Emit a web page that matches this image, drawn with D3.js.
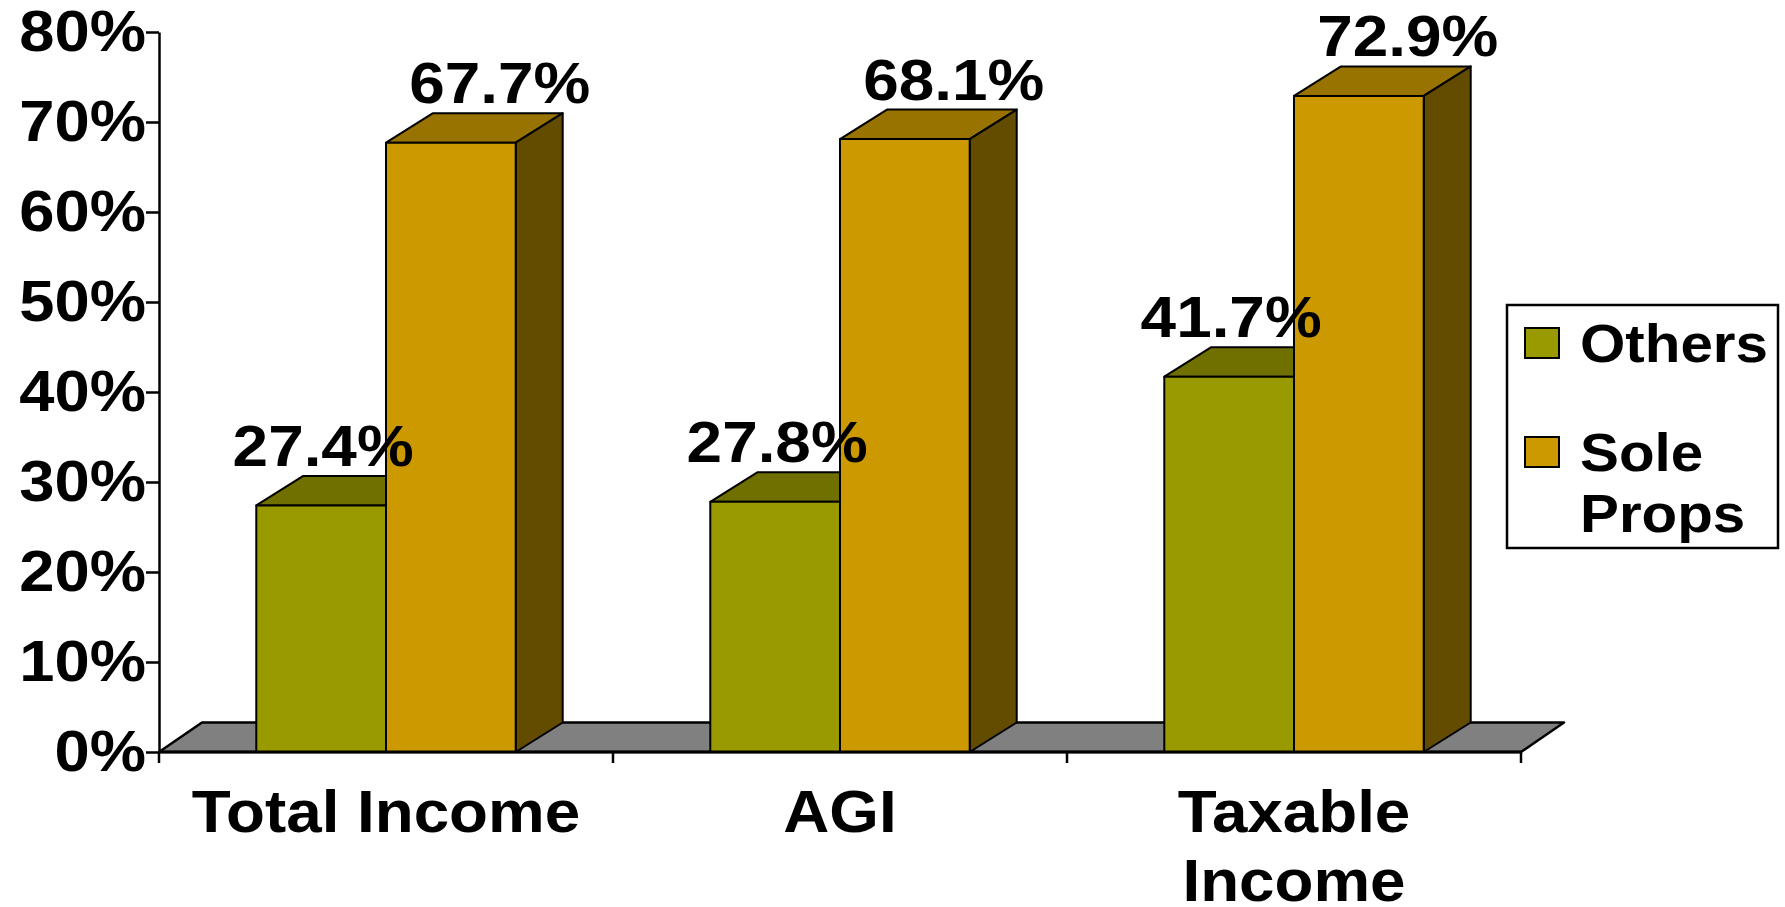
<!DOCTYPE html>
<html>
<head>
<meta charset="utf-8">
<script src="https://cdn.jsdelivr.net/npm/d3@7"></script>
<style>
  body { margin: 0; background: #fff; }
  text { font-family: "Liberation Sans", Arial, sans-serif; font-weight: bold; fill: #000; }
</style>
</head>
<body>
<svg id="chart"></svg>
<script>
// data
var categories = ["Total Income", "AGI", "Taxable Income"];
var seriesNames = ["Others", "Sole Props"];
var othersValues = [27.4, 27.8, 41.7];
var solePropsValues = [67.7, 68.1, 72.9];
var yTicks = [0, 10, 20, 30, 40, 50, 60, 70, 80];

var frontColors = ["#999900", "#cc9900"];
var topColors = ["#707000", "#997300"];
var sideColors = ["#4d4d00", "#634b00"];

document.addEventListener("DOMContentLoaded", function() {
  var width = 1785, height = 907;
  var svg = d3.select("#chart").attr("width", width).attr("height", height);

  var left = 159, right = 1521, bottom = 752, top = 32;
  var depthX = 47, depthY = 29.5;   // bar depth offset
  var floorX = 43;                  // floor depth offset

  var rows = seriesNames.map(function(name, i) {
    var vals = i === 0 ? othersValues : solePropsValues;
    return { name: name, index: i, values: vals };
  });

  var x0 = d3.scaleBand().domain(categories).range([left, right]).padding(0);
  var x1 = d3.scaleBand().domain(seriesNames).range([0, x0.bandwidth()])
    .paddingInner(0).paddingOuter(0.75);
  var y = d3.scaleLinear().domain([0, 80]).range([bottom, top]);

  // floor
  svg.append("polygon")
    .attr("points", [
      [left, bottom], [right, bottom],
      [right + floorX, bottom - depthY], [left + floorX, bottom - depthY]
    ].join(" "))
    .attr("fill", "#808080")
    .attr("stroke", "#000")
    .attr("stroke-width", 2.5)
    .attr("stroke-linejoin", "round");

  // bars, category by category so later series cover the earlier side faces
  categories.forEach(function(cat, ci) {
    rows.forEach(function(row) {
      var v = row.values[ci];
      var bx = x0(cat) + x1(row.name);
      var bw = x1.bandwidth();
      var yt = y(v), yb = y(0);
      var g = svg.append("g").attr("class", "bar");

      g.append("polygon")
        .attr("points", [
          [bx, yt], [bx + depthX, yt - depthY],
          [bx + bw + depthX, yt - depthY], [bx + bw, yt]
        ].join(" "))
        .attr("fill", topColors[row.index]);

      g.append("polygon")
        .attr("points", [
          [bx + bw, yt], [bx + bw + depthX, yt - depthY],
          [bx + bw + depthX, yb - depthY], [bx + bw, yb]
        ].join(" "))
        .attr("fill", sideColors[row.index]);

      g.append("rect")
        .attr("x", bx).attr("y", yt)
        .attr("width", bw).attr("height", yb - yt)
        .attr("fill", frontColors[row.index]);

      g.selectAll("polygon, rect")
        .attr("stroke", "#000")
        .attr("stroke-width", 2)
        .attr("stroke-linejoin", "round");
    });
  });

  // value labels
  categories.forEach(function(cat, ci) {
    rows.forEach(function(row) {
      var v = row.values[ci];
      var cx = x0(cat) + x1(row.name) + x1.bandwidth() / 2 + (row.index === 1 ? depthX : 0);
      svg.append("text")
        .attr("x", cx + 2)
        .attr("y", y(v) - depthY - 10)
        .attr("text-anchor", "middle")
        .style("font-size", "57px")
        .text(v.toFixed(1) + "%")
        .call(stretch, 1.12);
    });
  });

  // y axis
  var yAxis = d3.axisLeft(y)
    .tickValues(yTicks)
    .tickFormat(function(d) { return d + "%"; })
    .tickSize(13)
    .tickSizeOuter(0)
    .tickPadding(0);

  var yg = svg.append("g")
    .attr("transform", "translate(" + left + ",0)")
    .call(yAxis);
  yg.selectAll("path, line").attr("stroke", "#000").attr("stroke-width", 2.5);
  yg.selectAll("text")
    .attr("fill", "#000")
    .style("font-size", "57px")
    .style("font-family", "'Liberation Sans', Arial, sans-serif")
    .style("font-weight", "bold")
    .call(stretch, 1.11);

  // category axis: line on the front edge, ticks at band edges
  svg.append("line")
    .attr("x1", left).attr("x2", right)
    .attr("y1", bottom).attr("y2", bottom)
    .attr("stroke", "#000").attr("stroke-width", 3);

  var edges = categories.map(function(c) { return x0(c); }).concat([right]);
  svg.selectAll(".cat-tick")
    .data(edges)
    .enter().append("line")
    .attr("class", "cat-tick")
    .attr("x1", function(d) { return d; })
    .attr("x2", function(d) { return d; })
    .attr("y1", bottom).attr("y2", bottom + 11)
    .attr("stroke", "#000").attr("stroke-width", 2.5);

  svg.selectAll(".cat-label")
    .data(categories)
    .enter().append("text")
    .attr("class", "cat-label")
    .attr("x", function(d) { return x0(d) + x0.bandwidth() / 2; })
    .attr("y", 832)
    .attr("text-anchor", "middle")
    .style("font-size", "59px")
    .text(function(d) { return d; })
    .call(wrap, x0.bandwidth() - 20, 69)
    .call(stretch, 1.08);

  // legend
  var legend = svg.append("g");
  legend.append("rect")
    .attr("x", 1507).attr("y", 305)
    .attr("width", 271).attr("height", 243)
    .attr("fill", "#fff")
    .attr("stroke", "#000").attr("stroke-width", 2.5);

  var legendRows = [343, 452];
  rows.forEach(function(row, i) {
    legend.append("rect")
      .attr("x", 1525).attr("y", legendRows[i] - 15)
      .attr("width", 34).attr("height", 30)
      .attr("fill", frontColors[row.index])
      .attr("stroke", "#000").attr("stroke-width", 2);
    legend.append("text")
      .attr("x", 1580)
      .attr("y", legendRows[i] + 19)
      .style("font-size", "54px")
      .text(row.name)
      .call(wrap, 185, 61)
      .call(stretch, 1.08);
  });

  // widen glyphs a little, the source text is rendered broader than Arial
  function stretch(selection, k) {
    selection.each(function() {
      var el = d3.select(this);
      var parts = el.selectAll("tspan");
      var targets = parts.empty() ? [this] : parts.nodes();
      targets.forEach(function(node) {
        var len = node.getComputedTextLength();
        d3.select(node)
          .attr("textLength", len * k)
          .attr("lengthAdjust", "spacingAndGlyphs");
      });
    });
  }

  function wrap(selection, maxWidth, lineHeight) {
    selection.each(function() {
      var text = d3.select(this);
      var words = text.text().split(/\s+/);
      var x = text.attr("x"), y = text.attr("y");
      text.text(null);
      var line = [];
      var tspan = text.append("tspan").attr("x", x).attr("y", y);
      var lineNo = 0;
      words.forEach(function(word) {
        line.push(word);
        tspan.text(line.join(" "));
        if (tspan.node().getComputedTextLength() > maxWidth && line.length > 1) {
          line.pop();
          tspan.text(line.join(" "));
          line = [word];
          lineNo++;
          tspan = text.append("tspan")
            .attr("x", x)
            .attr("y", +y + lineNo * lineHeight)
            .text(word);
        }
      });
    });
  }
});
</script>
</body>
</html>
